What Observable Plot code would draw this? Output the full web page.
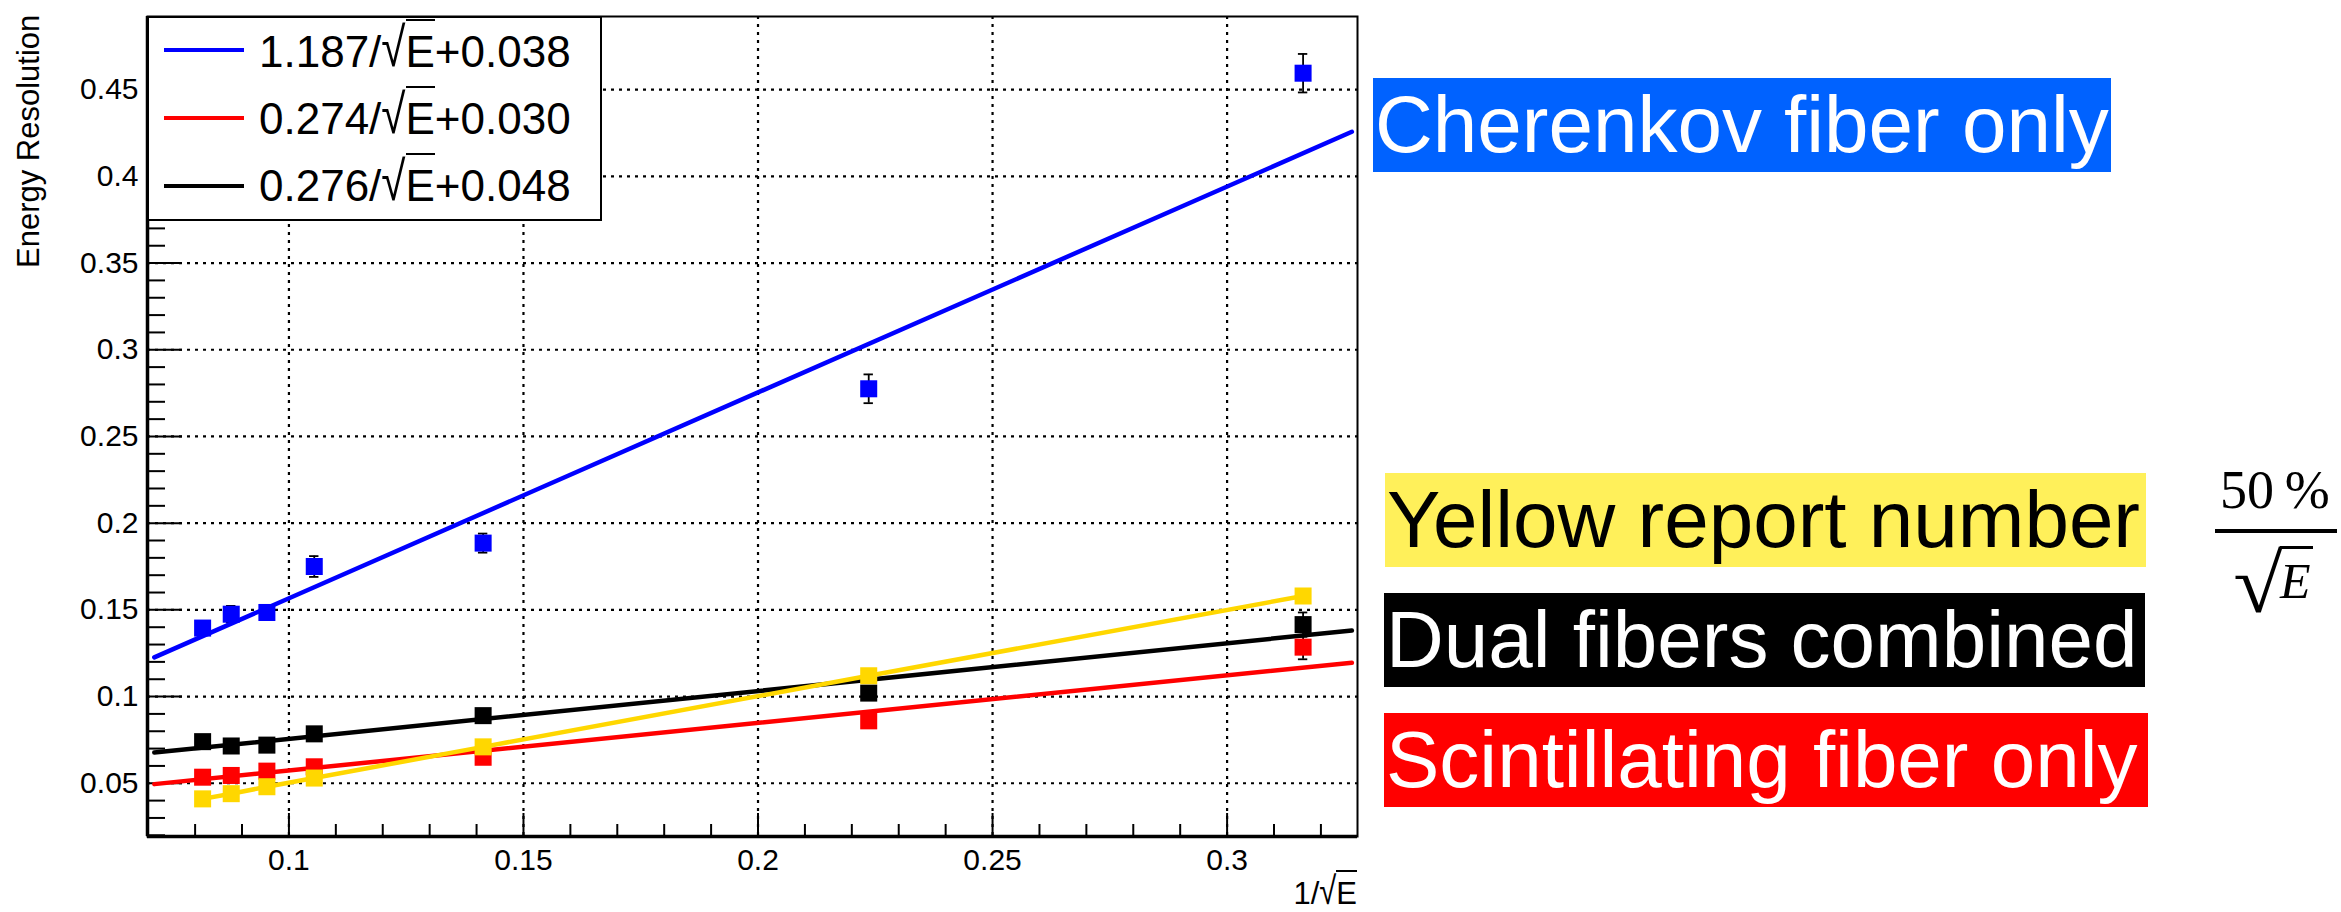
<!DOCTYPE html>
<html>
<head>
<meta charset="utf-8">
<script src="https://cdn.jsdelivr.net/npm/d3@7"></script>
<script src="https://cdn.jsdelivr.net/npm/@observablehq/plot@0.6"></script>
<style>
  body { margin: 0; background: #fff; }
  #wrap { position: relative; width: 2341px; height: 912px; overflow: hidden;
          font-family: "Liberation Sans", Arial, Helvetica, sans-serif; color: #000; }
  .abs { position: absolute; white-space: nowrap; }
  .ov { display: inline-block; border-top: 2px solid currentColor; line-height: 1; padding-top: 0.2em; }
  .rad { display: inline-block; transform: scaleY(1.25); transform-origin: 50% 85%; }
  .tag { position: absolute; white-space: nowrap; font-size: 80px; height: 94px; line-height: 94px;
         box-sizing: border-box; padding-left: 2px; overflow: visible; }
  .serif { font-family: "Liberation Serif", "Times New Roman", serif; }
</style>
</head>
<body>
<div id="wrap"></div>
<script>
// ---------------- data ----------------
const invSqrtE     = [0.0816, 0.0877, 0.0953, 0.1054, 0.1414, 0.2236, 0.3162];
const cherenkovRes = [0.1395, 0.1475, 0.1485, 0.1750, 0.1885, 0.2775, 0.4595];
const cherenkovErr = [0.0030, 0.0048, 0.0030, 0.0060, 0.0055, 0.0083, 0.0111];
const scintRes     = [0.0535, 0.0545, 0.0570, 0.0595, 0.0650, 0.0860, 0.1285];
const scintErr     = [0, 0, 0, 0, 0, 0, 0.0070];
const dualRes      = [0.0740, 0.0715, 0.0720, 0.0785, 0.0890, 0.1020, 0.1415];
const dualErr      = [0, 0, 0, 0, 0, 0, 0.0070];
const yellowRes    = [0.041, 0.044, 0.048, 0.053, 0.071, 0.112, 0.158];

const fitRange     = [0.0713, 0.3266];
const fitCherenkov = [0.1226, 0.4257];
const fitScint     = [0.0495, 0.1195];
const fitDual      = [0.0677, 0.1381];

const legendLabels = ["1.187/√E+0.038", "0.274/√E+0.030", "0.276/√E+0.048"];
const legendColors = ["#0000ff", "#ff0000", "#000000"];

const xTicks      = [0.1, 0.15, 0.2, 0.25, 0.3];
const xTickLabels = ["0.1", "0.15", "0.2", "0.25", "0.3"];
const xMinor      = [0.08, 0.09, 0.11, 0.12, 0.13, 0.14, 0.16, 0.17, 0.18, 0.19, 0.21, 0.22, 0.23, 0.24,
                     0.26, 0.27, 0.28, 0.29, 0.31, 0.32];
const yTicks      = [0.05, 0.1, 0.15, 0.2, 0.25, 0.3, 0.35, 0.4, 0.45];
const yTickLabels = ["0.05", "0.1", "0.15", "0.2", "0.25", "0.3", "0.35", "0.4", "0.45"];
const yMinor      = [0.02, 0.03, 0.04, 0.06, 0.07, 0.08, 0.09, 0.11, 0.12, 0.13, 0.14, 0.16, 0.17, 0.18, 0.19,
                     0.21, 0.22, 0.23, 0.24, 0.26, 0.27, 0.28, 0.29, 0.31, 0.32, 0.33, 0.34, 0.36, 0.37, 0.38, 0.39,
                     0.41, 0.42, 0.43, 0.44, 0.46, 0.47, 0.48, 0.49];

const xTitle = "1/√E";
const yTitle = "Energy Resolution";
const tags = ["Cherenkov fiber only", "Yellow report number", "Dual fibers combined", "Scintillating fiber only"];
const fracTop = "50\u2009%";

// ---------------- tables ----------------
const xDomain = [0.06985, 0.3278];
const yDomain = [0.0193, 0.4922];

const pts = (ys, errs) => invSqrtE.map((x, i) => ({x, y: ys[i], err: errs ? errs[i] : 0}));
const blue = pts(cherenkovRes, cherenkovErr);
const red = pts(scintRes, scintErr);
const black = pts(dualRes, dualErr);
const yellow = pts(yellowRes, null);
const withErr = [...blue, ...red, ...black].filter(d => d.err > 0);
const caps = withErr.flatMap(d => [{x: d.x, y: d.y - d.err}, {x: d.x, y: d.y + d.err}]);
const fit = (ys) => fitRange.map((x, i) => ({x, y: ys[i]}));

const font = '"Liberation Sans", Arial, Helvetica, sans-serif';
const noText = () => "";

const chart = Plot.plot({
  width: 2341, height: 912,
  marginLeft: 147, marginRight: 984, marginTop: 16, marginBottom: 76,
  x: {domain: xDomain},
  y: {domain: yDomain},
  style: {fontFamily: font, fontSize: "30px", background: "white", color: "black"},
  marks: [
    Plot.gridX(xTicks, {stroke: "black", strokeOpacity: 1, strokeWidth: 2.2, strokeDasharray: "3,5"}),
    Plot.gridY(yTicks, {stroke: "black", strokeOpacity: 1, strokeWidth: 2.2, strokeDasharray: "3,5"}),
    Plot.axisX(xTicks, {tickSize: 0, tickPadding: 12, tickFormat: (d, i) => xTickLabels[i], label: null, fontSize: 30}),
    Plot.axisX(xTicks, {tickSize: -23, tickFormat: noText, label: null, strokeWidth: 2}),
    Plot.axisX(xMinor, {tickSize: -12, tickFormat: noText, label: null, strokeWidth: 2}),
    Plot.axisY(yTicks, {tickSize: 0, tickPadding: 9, tickFormat: (d, i) => yTickLabels[i], label: null, fontSize: 30}),
    Plot.axisY(yTicks, {tickSize: -35, tickFormat: noText, label: null, strokeWidth: 2}),
    Plot.axisY(yMinor, {tickSize: -18, tickFormat: noText, label: null, strokeWidth: 2}),
    Plot.frame({stroke: "black", strokeWidth: 2}),
    Plot.ruleX([xDomain[0]], {stroke: "black", strokeWidth: 3.5}),
    Plot.ruleY([yDomain[0]], {stroke: "black", strokeWidth: 3.5}),
    // error bars
    Plot.ruleX(withErr, {x: "x", y1: d => d.y - d.err, y2: d => d.y + d.err, stroke: "black", strokeWidth: 1.8}),
    Plot.ruleY(caps, {y: "y", x1: d => d.x - 0.001, x2: d => d.x + 0.001, stroke: "black", strokeWidth: 1.8}),
    // fit lines
    Plot.line(fit(fitScint), {x: "x", y: "y", stroke: "#ff0000", strokeWidth: 4.5}),
    Plot.line(fit(fitDual), {x: "x", y: "y", stroke: "#000000", strokeWidth: 4.5}),
    Plot.line(fit(fitCherenkov), {x: "x", y: "y", stroke: "#0000ff", strokeWidth: 4.5}),
    // markers
    Plot.dot(blue, {x: "x", y: "y", fill: "#0000ff", symbol: "square", r: 9.6}),
    Plot.dot(red, {x: "x", y: "y", fill: "#ff0000", symbol: "square", r: 9.6}),
    Plot.dot(black, {x: "x", y: "y", fill: "#000000", symbol: "square", r: 9.6}),
    Plot.line(yellow, {x: "x", y: "y", stroke: "#ffd700", strokeWidth: 4.5}),
    Plot.dot(yellow, {x: "x", y: "y", fill: "#ffd700", symbol: "square", r: 9.6})
  ]
});

const wrap = document.getElementById("wrap");
chart.style.position = "absolute";
chart.style.left = "0px";
chart.style.top = "0px";
wrap.appendChild(chart);

function addDiv(html, css, cls) {
  const d = document.createElement("div");
  d.className = cls || "abs";
  d.innerHTML = html;
  Object.assign(d.style, css);
  wrap.appendChild(d);
  return d;
}
const sq = (s) => s.replace("√E", '<span class="rad">√</span><span class="ov">E</span>');

// legend
addDiv("", {left: "147px", top: "16px", width: "455px", height: "205px", border: "2px solid #000",
            background: "#fff", boxSizing: "border-box"});
const rowLine = [48, 116, 184];
const rowText = [19, 86, 153];
legendLabels.forEach((lab, i) => {
  addDiv("", {left: "164px", top: rowLine[i] + "px", width: "80px", height: "4px", background: legendColors[i]});
  addDiv(sq(lab), {left: "259px", top: rowText[i] + "px", fontSize: "44px", lineHeight: "60px"});
});

// axis titles
const yt = addDiv(yTitle, {fontSize: "31px", lineHeight: "31px", left: "13px", top: "0px",
                           transformOrigin: "left top", transform: "rotate(-90deg)"});
yt.style.top = (15 + yt.offsetWidth) + "px";
addDiv(sq(xTitle), {fontSize: "31px", lineHeight: "31px", right: (2341 - 1357) + "px", top: "870px"});

// right-hand tags
const tagBoxes = [
  {left: 1373, top: 78, width: 738, bg: "#0062ff", fg: "#fff"},
  {left: 1385, top: 473, width: 761, bg: "#fff05a", fg: "#000"},
  {left: 1384, top: 593, width: 761, bg: "#000000", fg: "#fff"},
  {left: 1384, top: 713, width: 764, bg: "#ff0000", fg: "#fff"}
];
tags.forEach((t, i) => {
  const b = tagBoxes[i];
  addDiv(t, {left: b.left + "px", top: b.top + "px", width: b.width + "px", background: b.bg, color: b.fg}, "tag");
});

// 50% / sqrt(E)
addDiv(fracTop, {left: "2220px", top: "463px", fontSize: "54px", lineHeight: "54px"}, "abs serif");
addDiv("", {left: "2215px", top: "529px", width: "122px", height: "4px", background: "#000"});
addDiv("E", {left: "2280px", top: "546px", fontSize: "50px", lineHeight: "50px", fontStyle: "italic",
             borderTop: "3px solid #000", paddingTop: "7px", paddingRight: "2px"}, "abs serif");
// radical glyph, scaled so that its ink fills the box of the reference radical
(function () {
  const target = {left: 2235, top: 546, right: 2283, bottom: 613};
  const fam = '"Liberation Serif", "Times New Roman", serif';
  const ctx = document.createElement("canvas").getContext("2d");
  ctx.font = "100px " + fam;
  const m = ctx.measureText("√");
  const inkW = (m.actualBoundingBoxLeft + m.actualBoundingBoxRight) || 55;
  const inkH = (m.actualBoundingBoxAscent + m.actualBoundingBoxDescent) || 90;
  const sx = (target.right - target.left) / inkW;
  const sy = (target.bottom - target.top) / inkH;
  const tx = target.left + (m.actualBoundingBoxLeft || 0) * sx;
  const ty = target.top + (m.actualBoundingBoxAscent || 80) * sy;
  const ns = "http://www.w3.org/2000/svg";
  const svg = document.createElementNS(ns, "svg");
  svg.setAttribute("width", "2341");
  svg.setAttribute("height", "912");
  svg.style.position = "absolute";
  svg.style.left = "0px";
  svg.style.top = "0px";
  svg.style.pointerEvents = "none";
  const t = document.createElementNS(ns, "text");
  t.setAttribute("font-family", fam);
  t.setAttribute("font-size", "100");
  t.setAttribute("transform", `translate(${tx},${ty}) scale(${sx},${sy})`);
  t.textContent = "√";
  svg.appendChild(t);
  wrap.appendChild(svg);
})();
</script>
</body>
</html>
